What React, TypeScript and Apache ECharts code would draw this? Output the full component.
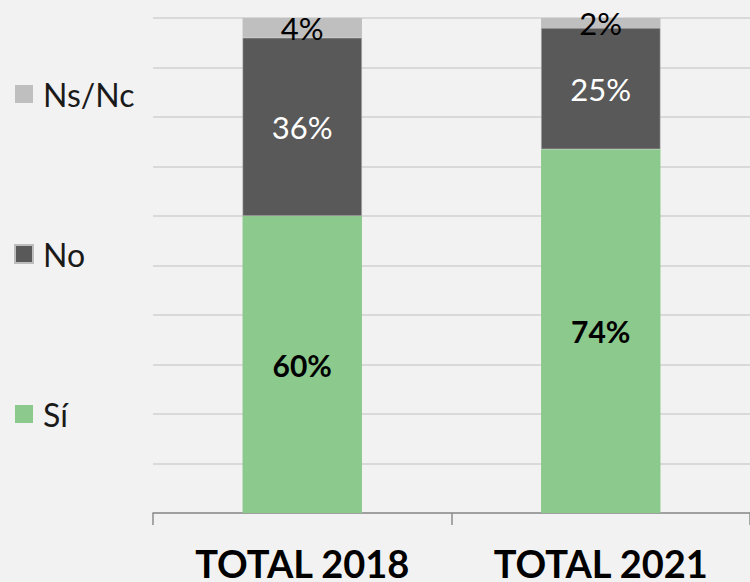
import React, { useEffect, useRef } from "react";
import * as echarts from "echarts";

const categories = ["TOTAL 2018", "TOTAL 2021"];
const siValues = [60, 73.5];
const noValues = [36, 24.5];
const nsncValues = [4, 2];
const legendOrder = ["Ns/Nc", "No", "Sí"];

const FONT = "Lato, 'Noto Sans', sans-serif";

export default function App() {
  const ref = useRef<HTMLDivElement>(null);
  useEffect(() => {
    if (!ref.current) return;
    const chart = echarts.init(ref.current, null, { renderer: "svg" });
    const fmt = (p: any) => `${Math.round(p.value)}%`;
    chart.setOption({
      animation: false,
      backgroundColor: "#f2f2f2",
      textStyle: { fontFamily: FONT },
      grid: { left: 153, right: 0, top: 18, bottom: 64, containLabel: false },
      legend: {
        orient: "vertical",
        left: 14,
        top: 78,
        padding: 0,
        data: legendOrder,
        itemWidth: 18,
        itemHeight: 18,
        itemGap: 128,
        icon: "rect",
        textStyle: { fontSize: 32, color: "#1a1a1a", fontFamily: FONT, lineHeight: 30, padding: [0, 0, 0, 5] },
        selectedMode: false,
      },
      xAxis: {
        type: "category",
        data: categories,
        axisLine: { show: true, lineStyle: { color: "#8c8c8c", width: 1.5 } },
        axisTick: { show: true, length: 12, lineStyle: { color: "#8c8c8c", width: 1.5 } },
        axisLabel: { fontSize: 38, fontWeight: "bold", color: "#000", margin: 31, fontFamily: FONT },
      },
      yAxis: {
        type: "value",
        min: 0,
        max: 100,
        interval: 10,
        axisLabel: { show: false },
        axisLine: { show: false },
        axisTick: { show: false },
        splitLine: { lineStyle: { color: "#d9d9d9", width: 2 } },
      },
      series: [
        {
          name: "Sí",
          type: "bar",
          stack: "t",
          barWidth: "40%",
          data: siValues,
          itemStyle: { color: "#8cc98c" },
          label: { show: true, position: "inside", formatter: fmt, fontSize: 30, fontWeight: "bold", color: "#000", fontFamily: FONT },
        },
        {
          name: "No",
          type: "bar",
          stack: "t",
          data: noValues,
          itemStyle: { color: "#595959", borderColor: "#bdbdbd", borderWidth: 0.5 },
          label: { show: true, position: "inside", formatter: fmt, fontSize: 31, color: "#fff", fontFamily: FONT },
        },
        {
          name: "Ns/Nc",
          type: "bar",
          stack: "t",
          data: nsncValues,
          itemStyle: { color: "#bfbfbf" },
          label: { show: true, position: "inside", formatter: fmt, fontSize: 31, color: "#000", fontFamily: FONT },
        },
      ],
    });
    return () => chart.dispose();
  }, []);
  return <div ref={ref} style={{ position: "fixed", left: 0, top: 0, width: 750, height: 582 }} />;
}
